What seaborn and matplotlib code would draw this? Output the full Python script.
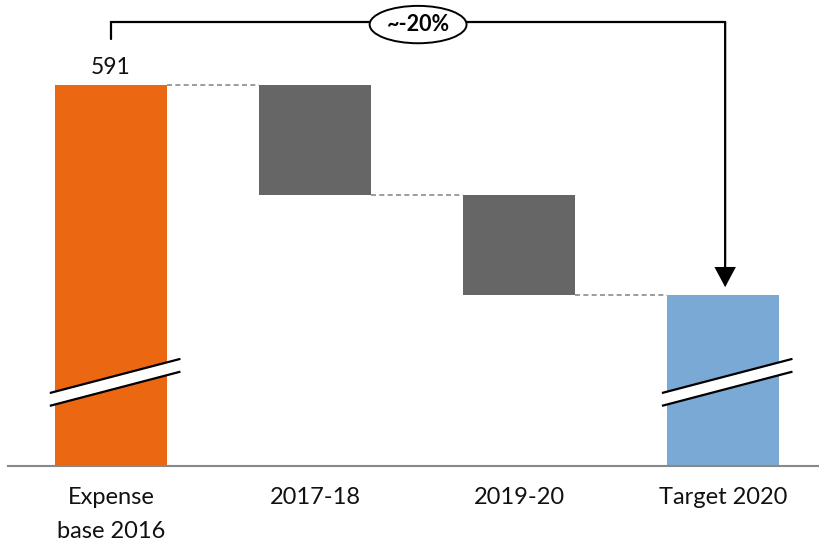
import matplotlib
matplotlib.use("Agg")
import matplotlib.pyplot as plt
from matplotlib.patches import Ellipse, Polygon
import numpy as np
import pandas as pd
import seaborn as sns

# Waterfall data
categories = ["Expense\nbase 2016", "2017-18", "2019-20", "Target 2020"]
start_value = 591
changes = [-62, -56]
bar_colors = ["#EB6711", "#666666", "#666666", "#7BA9D6"]

sns.set_theme(style="white")
plt.rcParams["font.family"] = ["Lato", "DejaVu Sans"]

# running totals
levels = np.cumsum([start_value] + changes)          # 591, 529, 473
target_value = int(levels[-1])
axis_floor = 377                                     # broken axis starts here
tops = np.array([start_value, levels[0], levels[1], target_value], dtype=float)
bottoms = np.array([axis_floor, levels[1], levels[2], axis_floor], dtype=float)

df = pd.DataFrame({"category": categories, "height": tops - bottoms})

fig = plt.figure(figsize=(8.19, 5.45), dpi=100)
ax = fig.add_axes([8 / 819, 1 - 466 / 545, 1 - 8 / 819, 466 / 545])

bar_width = 0.55
sns.barplot(data=df, x="category", y="height", bottom=bottoms, width=bar_width,
            errorbar=None, color="#666666", ax=ax, zorder=2)
for patch, c in zip(ax.patches, bar_colors):
    patch.set_facecolor(c)
    patch.set_edgecolor("none")

ax.set_xlim(-0.505, 3.47)
ax.set_ylim(axis_floor, 638.8)

# dashed connectors between consecutive bars
for i, lvl in enumerate(levels):
    ax.plot([i + bar_width / 2, i + 1 - bar_width / 2], [lvl, lvl],
            color="#8C8C8C", lw=1.2, ls=(0, (3, 2)), zorder=1)

# value label on the starting bar
ax.text(0, start_value + 6.5, f"{start_value}", ha="center", va="baseline",
        fontsize=16.5, color="#111111")

# axis break marks on the full-height bars
brk_mid, half_rise, half_gap = 424, 9.6, 3.6
for j in (0, 3):
    x0, x1 = j - 0.30, j + 0.34
    up = [(x0, brk_mid - half_rise + half_gap), (x1, brk_mid + half_rise + half_gap)]
    lo = [(x0, brk_mid - half_rise - half_gap), (x1, brk_mid + half_rise - half_gap)]
    ax.add_patch(Polygon([up[0], up[1], lo[1], lo[0]], closed=True,
                         facecolor="white", edgecolor="none", zorder=3))
    for seg in (up, lo):
        ax.plot([seg[0][0], seg[1][0]], [seg[0][1], seg[1][1]],
                color="black", lw=1.6, zorder=4, solid_capstyle="butt")

# bracket with arrow from start to target
bracket_y = 626.4
pct = (target_value - start_value) / start_value * 100
ax.plot([0, 0, 3.01], [616.8, bracket_y, bracket_y], color="black", lw=1.6,
        zorder=4, solid_joinstyle="miter")
ax.annotate("", xy=(3.01, target_value + 4.5), xytext=(3.01, bracket_y),
            arrowprops=dict(arrowstyle="-|>,head_length=0.6,head_width=0.32",
                            mutation_scale=20, color="black", lw=1.6,
                            shrinkA=0, shrinkB=0, joinstyle="miter"),
            zorder=4)
ax.plot([3.01, 3.01], [bracket_y - 0.8, bracket_y], color="black", lw=1.6, zorder=4)
ax.add_patch(Ellipse((1.505, 625.0), 0.475, 21.0, facecolor="white",
                     edgecolor="black", lw=1.4, zorder=5))
ax.text(1.505, 624.8, f"~{round(pct):d}%", ha="center", va="center",
        fontsize=15.5, fontweight="bold", color="black", zorder=6)

# axes styling
for side in ("left", "top", "right"):
    ax.spines[side].set_visible(False)
ax.spines["bottom"].set_color("#888888")
ax.spines["bottom"].set_linewidth(1.5)
ax.set_yticks([])
ax.set_xlabel("")
ax.set_ylabel("")
ax.set_xticks(range(len(categories)))
ax.set_xticklabels(categories, fontsize=17, color="#111111", linespacing=1.8)
ax.tick_params(axis="x", length=0, pad=15)

fig.savefig("out.png", dpi=100)
